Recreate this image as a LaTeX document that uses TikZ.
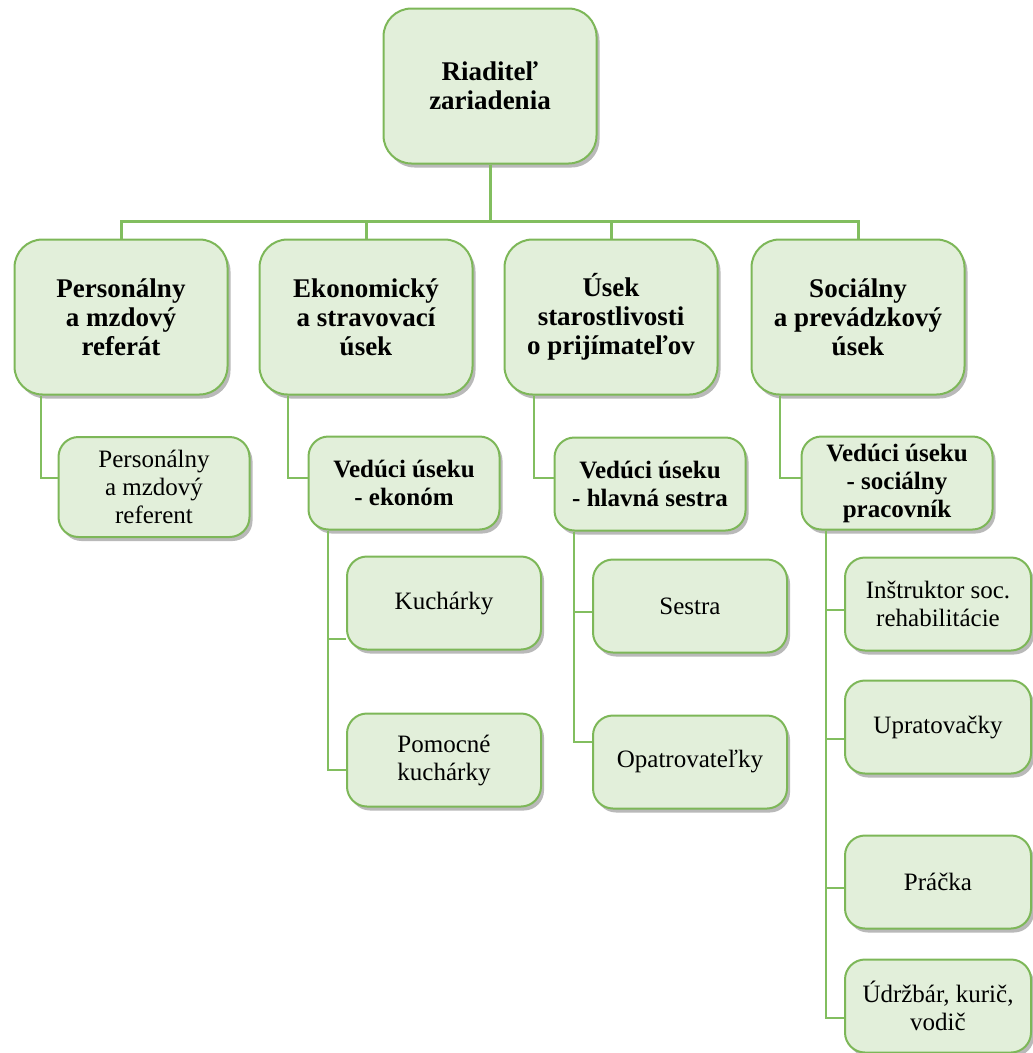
\documentclass[tikz,border=0pt]{standalone}
\usepackage{fontspec}
\setmainfont{Liberation Serif}
\usepackage{tikz}
\usetikzlibrary{shadows}
\definecolor{boxfill}{RGB}{226,239,218}
\definecolor{boxgreen}{RGB}{125,183,88}
\definecolor{linegreen}{RGB}{130,190,95}
\tikzset{
  box/.style={draw=boxgreen,line width=2pt,fill=boxfill,align=center,inner sep=2pt,
    font=\fontsize{25}{28}\selectfont,
    drop shadow={shadow xshift=3pt,shadow yshift=-4pt,fill=black!55,opacity=0.5}},
  lvlone/.style={box,rounded corners=28pt,minimum width=213pt,minimum height=155pt,font=\fontsize{27}{29}\selectfont\bfseries},
  lvltwo/.style={box,rounded corners=20pt,minimum width=191pt,minimum height=93pt,font=\fontsize{25}{28}\selectfont\bfseries},
  lvlthree/.style={box,rounded corners=20pt,minimum width=194pt,minimum height=93pt},
  bus/.style={draw=linegreen,line width=3pt},
  link/.style={draw=linegreen,line width=2pt}
}
\begin{document}
\begin{tikzpicture}[x=1pt,y=-1pt]
  \useasboundingbox (0,0) rectangle (1033,1053);
  % top
  \node[lvlone] (dir) at (490,86) {Riaditeľ\\zariadenia};
  % sections
  \node[lvlone] (per) at (121,317) {Personálny\\a mzdový\\referát};
  \node[lvlone] (eko) at (366,317) {Ekonomický\\a stravovací\\úsek};
  \node[lvlone] (use) at (611,317) {Úsek\\starostlivosti\\o prijímateľov};
  \node[lvlone] (soc) at (858,317) {Sociálny\\a prevádzkový\\úsek};
  % heads
  \node[lvltwo,minimum height=100pt,font=\fontsize{25}{28}\selectfont] (ref) at (154,487) {Personálny\\a mzdový\\referent};
  \node[lvltwo] (ekon) at (404,483) {Vedúci úseku\\- ekonóm};
  \node[lvltwo] (hsest) at (650,484) {Vedúci úseku\\- hlavná sestra};
  \node[lvltwo] (socp) at (897,483) {Vedúci úseku\\- sociálny\\pracovník};
  % staff
  \node[lvlthree] (kuch) at (444,603) {Kuchárky};
  \node[lvlthree] (pkuch) at (444,760) {Pomocné\\kuchárky};
  \node[lvlthree] (sest) at (690,606) {Sestra};
  \node[lvlthree] (opat) at (690,762) {Opatrovateľky};
  \node[lvlthree,minimum width=186pt] (inst) at (938,604) {Inštruktor soc.\\rehabilitácie};
  \node[lvlthree,minimum width=186pt] (uprat) at (938,727) {Upratovačky};
  \node[lvlthree,minimum width=186pt] (prac) at (938,882) {Práčka};
  \node[lvlthree,minimum width=186pt] (udrz) at (938,1006) {Údržbár, kurič,\\vodič};
  % connectors
  \foreach \n in {per,eko,use,soc}
    \draw[bus] (dir.south) -- ++(0,57) -| (\n.north);
  \draw[link] ([xshift=27pt]per.south west) |- ([yshift=9pt]ref.west);
  \draw[link] ([xshift=29pt]eko.south west) |- ([yshift=5pt]ekon.west);
  \draw[link] ([xshift=30pt]use.south west) |- ([yshift=6pt]hsest.west);
  \draw[link] ([xshift=29pt]soc.south west) |- ([yshift=5pt]socp.west);
  \draw[link] ([xshift=20pt]ekon.south west) |- ([yshift=-36pt]kuch.west);
  \draw[link] ([xshift=20pt]ekon.south west) |- ([yshift=-10pt]pkuch.west);
  \draw[link] ([xshift=20pt]hsest.south west) |- ([yshift=-6pt]sest.west);
  \draw[link] ([xshift=20pt]hsest.south west) |- ([yshift=20pt]opat.west);
  \draw[link] ([xshift=25pt]socp.south west) |- ([yshift=-6pt]inst.west);
  \draw[link] ([xshift=25pt]socp.south west) |- ([yshift=-12pt]uprat.west);
  \draw[link] ([xshift=25pt]socp.south west) |- ([yshift=-6pt]prac.west);
  \draw[link] ([xshift=25pt]socp.south west) |- ([yshift=-12pt]udrz.west);
\end{tikzpicture}
\end{document}
